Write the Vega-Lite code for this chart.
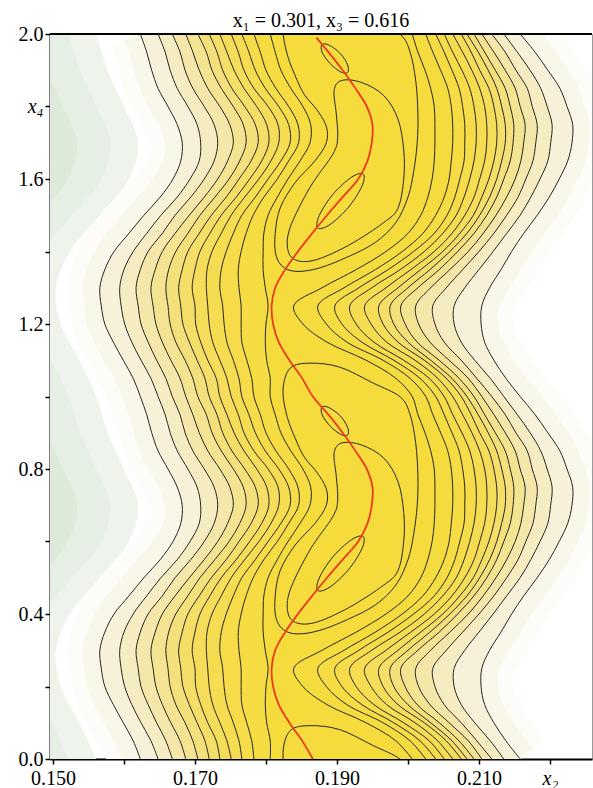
{
"$schema": "https://vega.github.io/schema/vega-lite/v6.json",
"width": 542, "height": 725,
"autosize": {"type": "none"},
"padding": {"left": 50, "top": 34, "right": 1, "bottom": 29},
"background": "white",
"title": {"text": "x₁ = 0.301, x₃ = 0.616", "font": "Liberation Serif", "fontSize": 20, "fontWeight": "normal", "color": "#000", "offset": -7, "anchor": "middle"},
"config": {
  "view": {"stroke": "#9a9a9a", "strokeWidth": 1},
  "axis": {"grid": false, "domainColor": "#000", "domainWidth": 2, "tickColor": "#000", "tickWidth": 1.5, "tickSize": 5, "labelFont": "Liberation Serif", "labelFontSize": 20, "labelColor": "#000", "labelPadding": 2}
},
"resolve": {"scale": {"color": "independent"}},
"datasets": {
"green": [
{"lvl":1,"y":0,"x":0.1561},{"lvl":1,"y":0.1,"x":0.1537},{"lvl":1,"y":0.2,"x":0.1511},{"lvl":1,"y":0.3,"x":0.1504},{"lvl":1,"y":0.4,"x":0.1524},{"lvl":1,"y":0.5,"x":0.1566},{"lvl":1,"y":0.6,"x":0.1607},{"lvl":1,"y":0.7,"x":0.1620},{"lvl":1,"y":0.8,"x":0.1600},{"lvl":1,"y":0.9,"x":0.1577},
{"lvl":1,"y":1,"x":0.1561},{"lvl":1,"y":1.1,"x":0.1537},{"lvl":1,"y":1.2,"x":0.1511},{"lvl":1,"y":1.3,"x":0.1504},{"lvl":1,"y":1.4,"x":0.1524},{"lvl":1,"y":1.5,"x":0.1566},{"lvl":1,"y":1.6,"x":0.1607},{"lvl":1,"y":1.7,"x":0.1620},{"lvl":1,"y":1.8,"x":0.1600},{"lvl":1,"y":1.9,"x":0.1577},{"lvl":1,"y":2,"x":0.1561},
{"lvl":2,"y":0,"x":0.1522},{"lvl":2,"y":0.1,"x":0.1498},{"lvl":2,"y":0.2,"x":0.1472},{"lvl":2,"y":0.3,"x":0.1465},{"lvl":2,"y":0.4,"x":0.1485},{"lvl":2,"y":0.5,"x":0.1527},{"lvl":2,"y":0.6,"x":0.1568},{"lvl":2,"y":0.7,"x":0.1581},{"lvl":2,"y":0.8,"x":0.1561},{"lvl":2,"y":0.9,"x":0.1538},
{"lvl":2,"y":1,"x":0.1522},{"lvl":2,"y":1.1,"x":0.1498},{"lvl":2,"y":1.2,"x":0.1472},{"lvl":2,"y":1.3,"x":0.1465},{"lvl":2,"y":1.4,"x":0.1485},{"lvl":2,"y":1.5,"x":0.1527},{"lvl":2,"y":1.6,"x":0.1568},{"lvl":2,"y":1.7,"x":0.1581},{"lvl":2,"y":1.8,"x":0.1561},{"lvl":2,"y":1.9,"x":0.1538},{"lvl":2,"y":2,"x":0.1522},
{"lvl":3,"y":0,"x":0.1475},{"lvl":3,"y":0.1,"x":0.1451},{"lvl":3,"y":0.2,"x":0.1425},{"lvl":3,"y":0.3,"x":0.1418},{"lvl":3,"y":0.4,"x":0.1438},{"lvl":3,"y":0.5,"x":0.1480},{"lvl":3,"y":0.6,"x":0.1521},{"lvl":3,"y":0.7,"x":0.1534},{"lvl":3,"y":0.8,"x":0.1514},{"lvl":3,"y":0.9,"x":0.1491},
{"lvl":3,"y":1,"x":0.1475},{"lvl":3,"y":1.1,"x":0.1451},{"lvl":3,"y":1.2,"x":0.1425},{"lvl":3,"y":1.3,"x":0.1418},{"lvl":3,"y":1.4,"x":0.1438},{"lvl":3,"y":1.5,"x":0.1480},{"lvl":3,"y":1.6,"x":0.1521},{"lvl":3,"y":1.7,"x":0.1534},{"lvl":3,"y":1.8,"x":0.1514},{"lvl":3,"y":1.9,"x":0.1491},{"lvl":3,"y":2,"x":0.1475}
],
"bands": [
{"k":1,"y":0,"l":0.1623,"r":0.2158},{"k":1,"y":0.05,"l":0.1613,"r":0.2138},{"k":1,"y":0.1,"l":0.1599,"r":0.2121},{"k":1,"y":0.15,"l":0.1585,"r":0.2108},{"k":1,"y":0.2,"l":0.1573,"r":0.2103},{"k":1,"y":0.25,"l":0.1568,"r":0.2104},{"k":1,"y":0.3,"l":0.1566,"r":0.2115},{"k":1,"y":0.35,"l":0.1573,"r":0.2131},{"k":1,"y":0.4,"l":0.1586,"r":0.2146},{"k":1,"y":0.45,"l":0.1607,"r":0.2163},{"k":1,"y":0.5,"l":0.1628,"r":0.2182},{"k":1,"y":0.55,"l":0.1651,"r":0.2199},{"k":1,"y":0.6,"l":0.1669,"r":0.2213},{"k":1,"y":0.65,"l":0.1680,"r":0.2225},{"k":1,"y":0.7,"l":0.1682,"r":0.2231},{"k":1,"y":0.75,"l":0.1675,"r":0.2232},{"k":1,"y":0.8,"l":0.1662,"r":0.2224},{"k":1,"y":0.85,"l":0.1648,"r":0.2214},{"k":1,"y":0.9,"l":0.1639,"r":0.2197},{"k":1,"y":0.95,"l":0.1632,"r":0.2179},
{"k":1,"y":1,"l":0.1623,"r":0.2158},{"k":1,"y":1.05,"l":0.1613,"r":0.2138},{"k":1,"y":1.1,"l":0.1599,"r":0.2121},{"k":1,"y":1.15,"l":0.1585,"r":0.2108},{"k":1,"y":1.2,"l":0.1573,"r":0.2103},{"k":1,"y":1.25,"l":0.1568,"r":0.2104},{"k":1,"y":1.3,"l":0.1566,"r":0.2115},{"k":1,"y":1.35,"l":0.1573,"r":0.2131},{"k":1,"y":1.4,"l":0.1586,"r":0.2146},{"k":1,"y":1.45,"l":0.1607,"r":0.2163},{"k":1,"y":1.5,"l":0.1628,"r":0.2182},{"k":1,"y":1.55,"l":0.1651,"r":0.2199},{"k":1,"y":1.6,"l":0.1669,"r":0.2213},{"k":1,"y":1.65,"l":0.1680,"r":0.2225},{"k":1,"y":1.7,"l":0.1682,"r":0.2231},{"k":1,"y":1.75,"l":0.1675,"r":0.2232},{"k":1,"y":1.8,"l":0.1662,"r":0.2224},{"k":1,"y":1.85,"l":0.1648,"r":0.2214},{"k":1,"y":1.9,"l":0.1639,"r":0.2197},{"k":1,"y":1.95,"l":0.1632,"r":0.2179},{"k":1,"y":2,"l":0.1623,"r":0.2158},
{"k":2,"y":0,"l":0.1648,"r":0.2135},{"k":2,"y":0.05,"l":0.1638,"r":0.2116},{"k":2,"y":0.1,"l":0.1624,"r":0.2094},{"k":2,"y":0.15,"l":0.1611,"r":0.2075},{"k":2,"y":0.2,"l":0.1601,"r":0.2065},{"k":2,"y":0.25,"l":0.1596,"r":0.2065},{"k":2,"y":0.3,"l":0.1594,"r":0.2080},{"k":2,"y":0.35,"l":0.1600,"r":0.2100},{"k":2,"y":0.4,"l":0.1613,"r":0.2120},{"k":2,"y":0.45,"l":0.1632,"r":0.2139},{"k":2,"y":0.5,"l":0.1652,"r":0.2158},{"k":2,"y":0.55,"l":0.1675,"r":0.2173},{"k":2,"y":0.6,"l":0.1693,"r":0.2186},{"k":2,"y":0.65,"l":0.1706,"r":0.2197},{"k":2,"y":0.7,"l":0.1708,"r":0.2201},{"k":2,"y":0.75,"l":0.1703,"r":0.2203},{"k":2,"y":0.8,"l":0.1690,"r":0.2196},{"k":2,"y":0.85,"l":0.1675,"r":0.2187},{"k":2,"y":0.9,"l":0.1665,"r":0.2172},{"k":2,"y":0.95,"l":0.1658,"r":0.2154},
{"k":2,"y":1,"l":0.1648,"r":0.2135},{"k":2,"y":1.05,"l":0.1638,"r":0.2116},{"k":2,"y":1.1,"l":0.1624,"r":0.2094},{"k":2,"y":1.15,"l":0.1611,"r":0.2075},{"k":2,"y":1.2,"l":0.1601,"r":0.2065},{"k":2,"y":1.25,"l":0.1596,"r":0.2065},{"k":2,"y":1.3,"l":0.1594,"r":0.2080},{"k":2,"y":1.35,"l":0.1600,"r":0.2100},{"k":2,"y":1.4,"l":0.1613,"r":0.2120},{"k":2,"y":1.45,"l":0.1632,"r":0.2139},{"k":2,"y":1.5,"l":0.1652,"r":0.2158},{"k":2,"y":1.55,"l":0.1675,"r":0.2173},{"k":2,"y":1.6,"l":0.1693,"r":0.2186},{"k":2,"y":1.65,"l":0.1706,"r":0.2197},{"k":2,"y":1.7,"l":0.1708,"r":0.2201},{"k":2,"y":1.75,"l":0.1703,"r":0.2203},{"k":2,"y":1.8,"l":0.1690,"r":0.2196},{"k":2,"y":1.85,"l":0.1675,"r":0.2187},{"k":2,"y":1.9,"l":0.1665,"r":0.2172},{"k":2,"y":1.95,"l":0.1658,"r":0.2154},{"k":2,"y":2,"l":0.1648,"r":0.2135},
{"k":3,"y":0,"l":0.1668,"r":0.2118},{"k":3,"y":0.05,"l":0.1659,"r":0.2097},{"k":3,"y":0.1,"l":0.1646,"r":0.2075},{"k":3,"y":0.15,"l":0.1634,"r":0.2051},{"k":3,"y":0.2,"l":0.1624,"r":0.2038},{"k":3,"y":0.25,"l":0.1620,"r":0.2035},{"k":3,"y":0.3,"l":0.1617,"r":0.2054},{"k":3,"y":0.35,"l":0.1623,"r":0.2077},{"k":3,"y":0.4,"l":0.1634,"r":0.2100},{"k":3,"y":0.45,"l":0.1654,"r":0.2121},{"k":3,"y":0.5,"l":0.1672,"r":0.2139},{"k":3,"y":0.55,"l":0.1694,"r":0.2155},{"k":3,"y":0.6,"l":0.1713,"r":0.2166},{"k":3,"y":0.65,"l":0.1727,"r":0.2176},{"k":3,"y":0.7,"l":0.1732,"r":0.2180},{"k":3,"y":0.75,"l":0.1727,"r":0.2182},{"k":3,"y":0.8,"l":0.1713,"r":0.2175},{"k":3,"y":0.85,"l":0.1697,"r":0.2168},{"k":3,"y":0.9,"l":0.1686,"r":0.2152},{"k":3,"y":0.95,"l":0.1679,"r":0.2137},
{"k":3,"y":1,"l":0.1668,"r":0.2118},{"k":3,"y":1.05,"l":0.1659,"r":0.2097},{"k":3,"y":1.1,"l":0.1646,"r":0.2075},{"k":3,"y":1.15,"l":0.1634,"r":0.2051},{"k":3,"y":1.2,"l":0.1624,"r":0.2038},{"k":3,"y":1.25,"l":0.1620,"r":0.2035},{"k":3,"y":1.3,"l":0.1617,"r":0.2054},{"k":3,"y":1.35,"l":0.1623,"r":0.2077},{"k":3,"y":1.4,"l":0.1634,"r":0.2100},{"k":3,"y":1.45,"l":0.1654,"r":0.2121},{"k":3,"y":1.5,"l":0.1672,"r":0.2139},{"k":3,"y":1.55,"l":0.1694,"r":0.2155},{"k":3,"y":1.6,"l":0.1713,"r":0.2166},{"k":3,"y":1.65,"l":0.1727,"r":0.2176},{"k":3,"y":1.7,"l":0.1732,"r":0.2180},{"k":3,"y":1.75,"l":0.1727,"r":0.2182},{"k":3,"y":1.8,"l":0.1713,"r":0.2175},{"k":3,"y":1.85,"l":0.1697,"r":0.2168},{"k":3,"y":1.9,"l":0.1686,"r":0.2152},{"k":3,"y":1.95,"l":0.1679,"r":0.2137},{"k":3,"y":2,"l":0.1668,"r":0.2118},
{"k":4,"y":0,"l":0.1687,"r":0.2104},{"k":4,"y":0.05,"l":0.1679,"r":0.2085},{"k":4,"y":0.1,"l":0.1666,"r":0.2058},{"k":4,"y":0.15,"l":0.1654,"r":0.2031},{"k":4,"y":0.2,"l":0.1645,"r":0.2015},{"k":4,"y":0.25,"l":0.1641,"r":0.2011},{"k":4,"y":0.3,"l":0.1638,"r":0.2032},{"k":4,"y":0.35,"l":0.1644,"r":0.2059},{"k":4,"y":0.4,"l":0.1654,"r":0.2085},{"k":4,"y":0.45,"l":0.1672,"r":0.2106},{"k":4,"y":0.5,"l":0.1692,"r":0.2124},{"k":4,"y":0.55,"l":0.1713,"r":0.2139},{"k":4,"y":0.6,"l":0.1732,"r":0.2151},{"k":4,"y":0.65,"l":0.1746,"r":0.2159},{"k":4,"y":0.7,"l":0.1754,"r":0.2163},{"k":4,"y":0.75,"l":0.1749,"r":0.2165},{"k":4,"y":0.8,"l":0.1735,"r":0.2158},{"k":4,"y":0.85,"l":0.1718,"r":0.2151},{"k":4,"y":0.9,"l":0.1706,"r":0.2137},{"k":4,"y":0.95,"l":0.1697,"r":0.2121},
{"k":4,"y":1,"l":0.1687,"r":0.2104},{"k":4,"y":1.05,"l":0.1679,"r":0.2085},{"k":4,"y":1.1,"l":0.1666,"r":0.2058},{"k":4,"y":1.15,"l":0.1654,"r":0.2031},{"k":4,"y":1.2,"l":0.1645,"r":0.2015},{"k":4,"y":1.25,"l":0.1641,"r":0.2011},{"k":4,"y":1.3,"l":0.1638,"r":0.2032},{"k":4,"y":1.35,"l":0.1644,"r":0.2059},{"k":4,"y":1.4,"l":0.1654,"r":0.2085},{"k":4,"y":1.45,"l":0.1672,"r":0.2106},{"k":4,"y":1.5,"l":0.1692,"r":0.2124},{"k":4,"y":1.55,"l":0.1713,"r":0.2139},{"k":4,"y":1.6,"l":0.1732,"r":0.2151},{"k":4,"y":1.65,"l":0.1746,"r":0.2159},{"k":4,"y":1.7,"l":0.1754,"r":0.2163},{"k":4,"y":1.75,"l":0.1749,"r":0.2165},{"k":4,"y":1.8,"l":0.1735,"r":0.2158},{"k":4,"y":1.85,"l":0.1718,"r":0.2151},{"k":4,"y":1.9,"l":0.1706,"r":0.2137},{"k":4,"y":1.95,"l":0.1697,"r":0.2121},{"k":4,"y":2,"l":0.1687,"r":0.2104},
{"k":5,"y":0,"l":0.1704,"r":0.2093},{"k":5,"y":0.05,"l":0.1697,"r":0.2072},{"k":5,"y":0.1,"l":0.1686,"r":0.2044},{"k":5,"y":0.15,"l":0.1673,"r":0.2013},{"k":5,"y":0.2,"l":0.1665,"r":0.1996},{"k":5,"y":0.25,"l":0.1662,"r":0.1990},{"k":5,"y":0.3,"l":0.1659,"r":0.2014},{"k":5,"y":0.35,"l":0.1663,"r":0.2044},{"k":5,"y":0.4,"l":0.1673,"r":0.2070},{"k":5,"y":0.45,"l":0.1690,"r":0.2093},{"k":5,"y":0.5,"l":0.1707,"r":0.2111},{"k":5,"y":0.55,"l":0.1728,"r":0.2125},{"k":5,"y":0.6,"l":0.1748,"r":0.2135},{"k":5,"y":0.65,"l":0.1763,"r":0.2144},{"k":5,"y":0.7,"l":0.1772,"r":0.2148},{"k":5,"y":0.75,"l":0.1768,"r":0.2149},{"k":5,"y":0.8,"l":0.1754,"r":0.2144},{"k":5,"y":0.85,"l":0.1737,"r":0.2137},{"k":5,"y":0.9,"l":0.1724,"r":0.2123},{"k":5,"y":0.95,"l":0.1716,"r":0.2108},
{"k":5,"y":1,"l":0.1704,"r":0.2093},{"k":5,"y":1.05,"l":0.1697,"r":0.2072},{"k":5,"y":1.1,"l":0.1686,"r":0.2044},{"k":5,"y":1.15,"l":0.1673,"r":0.2013},{"k":5,"y":1.2,"l":0.1665,"r":0.1996},{"k":5,"y":1.25,"l":0.1662,"r":0.1990},{"k":5,"y":1.3,"l":0.1659,"r":0.2014},{"k":5,"y":1.35,"l":0.1663,"r":0.2044},{"k":5,"y":1.4,"l":0.1673,"r":0.2070},{"k":5,"y":1.45,"l":0.1690,"r":0.2093},{"k":5,"y":1.5,"l":0.1707,"r":0.2111},{"k":5,"y":1.55,"l":0.1728,"r":0.2125},{"k":5,"y":1.6,"l":0.1748,"r":0.2135},{"k":5,"y":1.65,"l":0.1763,"r":0.2144},{"k":5,"y":1.7,"l":0.1772,"r":0.2148},{"k":5,"y":1.75,"l":0.1768,"r":0.2149},{"k":5,"y":1.8,"l":0.1754,"r":0.2144},{"k":5,"y":1.85,"l":0.1737,"r":0.2137},{"k":5,"y":1.9,"l":0.1724,"r":0.2123},{"k":5,"y":1.95,"l":0.1716,"r":0.2108},{"k":5,"y":2,"l":0.1704,"r":0.2093},
{"k":6,"y":0,"l":0.1720,"r":0.2083},{"k":6,"y":0.05,"l":0.1714,"r":0.2062},{"k":6,"y":0.1,"l":0.1703,"r":0.2032},{"k":6,"y":0.15,"l":0.1692,"r":0.2000},{"k":6,"y":0.2,"l":0.1683,"r":0.1980},{"k":6,"y":0.25,"l":0.1680,"r":0.1975},{"k":6,"y":0.3,"l":0.1677,"r":0.2000},{"k":6,"y":0.35,"l":0.1682,"r":0.2031},{"k":6,"y":0.4,"l":0.1690,"r":0.2059},{"k":6,"y":0.45,"l":0.1706,"r":0.2083},{"k":6,"y":0.5,"l":0.1723,"r":0.2101},{"k":6,"y":0.55,"l":0.1744,"r":0.2115},{"k":6,"y":0.6,"l":0.1762,"r":0.2125},{"k":6,"y":0.65,"l":0.1779,"r":0.2132},{"k":6,"y":0.7,"l":0.1789,"r":0.2137},{"k":6,"y":0.75,"l":0.1785,"r":0.2137},{"k":6,"y":0.8,"l":0.1770,"r":0.2132},{"k":6,"y":0.85,"l":0.1752,"r":0.2125},{"k":6,"y":0.9,"l":0.1739,"r":0.2113},{"k":6,"y":0.95,"l":0.1731,"r":0.2099},
{"k":6,"y":1,"l":0.1720,"r":0.2083},{"k":6,"y":1.05,"l":0.1714,"r":0.2062},{"k":6,"y":1.1,"l":0.1703,"r":0.2032},{"k":6,"y":1.15,"l":0.1692,"r":0.2000},{"k":6,"y":1.2,"l":0.1683,"r":0.1980},{"k":6,"y":1.25,"l":0.1680,"r":0.1975},{"k":6,"y":1.3,"l":0.1677,"r":0.2000},{"k":6,"y":1.35,"l":0.1682,"r":0.2031},{"k":6,"y":1.4,"l":0.1690,"r":0.2059},{"k":6,"y":1.45,"l":0.1706,"r":0.2083},{"k":6,"y":1.5,"l":0.1723,"r":0.2101},{"k":6,"y":1.55,"l":0.1744,"r":0.2115},{"k":6,"y":1.6,"l":0.1762,"r":0.2125},{"k":6,"y":1.65,"l":0.1779,"r":0.2132},{"k":6,"y":1.7,"l":0.1789,"r":0.2137},{"k":6,"y":1.75,"l":0.1785,"r":0.2137},{"k":6,"y":1.8,"l":0.1770,"r":0.2132},{"k":6,"y":1.85,"l":0.1752,"r":0.2125},{"k":6,"y":1.9,"l":0.1739,"r":0.2113},{"k":6,"y":1.95,"l":0.1731,"r":0.2099},{"k":6,"y":2,"l":0.1720,"r":0.2083},
{"k":7,"y":0,"l":0.1735,"r":0.2075},{"k":7,"y":0.05,"l":0.1730,"r":0.2054},{"k":7,"y":0.1,"l":0.1718,"r":0.2023},{"k":7,"y":0.15,"l":0.1708,"r":0.1986},{"k":7,"y":0.2,"l":0.1701,"r":0.1965},{"k":7,"y":0.25,"l":0.1700,"r":0.1959},{"k":7,"y":0.3,"l":0.1696,"r":0.1986},{"k":7,"y":0.35,"l":0.1700,"r":0.2018},{"k":7,"y":0.4,"l":0.1707,"r":0.2049},{"k":7,"y":0.45,"l":0.1721,"r":0.2073},{"k":7,"y":0.5,"l":0.1737,"r":0.2092},{"k":7,"y":0.55,"l":0.1758,"r":0.2104},{"k":7,"y":0.6,"l":0.1777,"r":0.2114},{"k":7,"y":0.65,"l":0.1794,"r":0.2121},{"k":7,"y":0.7,"l":0.1804,"r":0.2125},{"k":7,"y":0.75,"l":0.1801,"r":0.2125},{"k":7,"y":0.8,"l":0.1787,"r":0.2121},{"k":7,"y":0.85,"l":0.1769,"r":0.2114},{"k":7,"y":0.9,"l":0.1755,"r":0.2101},{"k":7,"y":0.95,"l":0.1745,"r":0.2089},
{"k":7,"y":1,"l":0.1735,"r":0.2075},{"k":7,"y":1.05,"l":0.1730,"r":0.2054},{"k":7,"y":1.1,"l":0.1718,"r":0.2023},{"k":7,"y":1.15,"l":0.1708,"r":0.1986},{"k":7,"y":1.2,"l":0.1701,"r":0.1965},{"k":7,"y":1.25,"l":0.1700,"r":0.1959},{"k":7,"y":1.3,"l":0.1696,"r":0.1986},{"k":7,"y":1.35,"l":0.1700,"r":0.2018},{"k":7,"y":1.4,"l":0.1707,"r":0.2049},{"k":7,"y":1.45,"l":0.1721,"r":0.2073},{"k":7,"y":1.5,"l":0.1737,"r":0.2092},{"k":7,"y":1.55,"l":0.1758,"r":0.2104},{"k":7,"y":1.6,"l":0.1777,"r":0.2114},{"k":7,"y":1.65,"l":0.1794,"r":0.2121},{"k":7,"y":1.7,"l":0.1804,"r":0.2125},{"k":7,"y":1.75,"l":0.1801,"r":0.2125},{"k":7,"y":1.8,"l":0.1787,"r":0.2121},{"k":7,"y":1.85,"l":0.1769,"r":0.2114},{"k":7,"y":1.9,"l":0.1755,"r":0.2101},{"k":7,"y":1.95,"l":0.1745,"r":0.2089},{"k":7,"y":2,"l":0.1735,"r":0.2075},
{"k":8,"y":0,"l":0.1751,"r":0.2063},{"k":8,"y":0.05,"l":0.1745,"r":0.2042},{"k":8,"y":0.1,"l":0.1735,"r":0.2010},{"k":8,"y":0.15,"l":0.1725,"r":0.1970},{"k":8,"y":0.2,"l":0.1720,"r":0.1948},{"k":8,"y":0.25,"l":0.1718,"r":0.1939},{"k":8,"y":0.3,"l":0.1716,"r":0.1969},{"k":8,"y":0.35,"l":0.1717,"r":0.2004},{"k":8,"y":0.4,"l":0.1724,"r":0.2037},{"k":8,"y":0.45,"l":0.1737,"r":0.2062},{"k":8,"y":0.5,"l":0.1751,"r":0.2080},{"k":8,"y":0.55,"l":0.1770,"r":0.2093},{"k":8,"y":0.6,"l":0.1790,"r":0.2101},{"k":8,"y":0.65,"l":0.1807,"r":0.2108},{"k":8,"y":0.7,"l":0.1818,"r":0.2111},{"k":8,"y":0.75,"l":0.1817,"r":0.2111},{"k":8,"y":0.8,"l":0.1803,"r":0.2108},{"k":8,"y":0.85,"l":0.1783,"r":0.2101},{"k":8,"y":0.9,"l":0.1769,"r":0.2090},{"k":8,"y":0.95,"l":0.1761,"r":0.2077},
{"k":8,"y":1,"l":0.1751,"r":0.2063},{"k":8,"y":1.05,"l":0.1745,"r":0.2042},{"k":8,"y":1.1,"l":0.1735,"r":0.2010},{"k":8,"y":1.15,"l":0.1725,"r":0.1970},{"k":8,"y":1.2,"l":0.1720,"r":0.1948},{"k":8,"y":1.25,"l":0.1718,"r":0.1939},{"k":8,"y":1.3,"l":0.1716,"r":0.1969},{"k":8,"y":1.35,"l":0.1717,"r":0.2004},{"k":8,"y":1.4,"l":0.1724,"r":0.2037},{"k":8,"y":1.45,"l":0.1737,"r":0.2062},{"k":8,"y":1.5,"l":0.1751,"r":0.2080},{"k":8,"y":1.55,"l":0.1770,"r":0.2093},{"k":8,"y":1.6,"l":0.1790,"r":0.2101},{"k":8,"y":1.65,"l":0.1807,"r":0.2108},{"k":8,"y":1.7,"l":0.1818,"r":0.2111},{"k":8,"y":1.75,"l":0.1817,"r":0.2111},{"k":8,"y":1.8,"l":0.1803,"r":0.2108},{"k":8,"y":1.85,"l":0.1783,"r":0.2101},{"k":8,"y":1.9,"l":0.1769,"r":0.2090},{"k":8,"y":1.95,"l":0.1761,"r":0.2077},{"k":8,"y":2,"l":0.1751,"r":0.2063},
{"k":9,"y":0,"l":0.1766,"r":0.2051},{"k":9,"y":0.05,"l":0.1762,"r":0.2030},{"k":9,"y":0.1,"l":0.1754,"r":0.1994},{"k":9,"y":0.15,"l":0.1745,"r":0.1952},{"k":9,"y":0.2,"l":0.1741,"r":0.1927},{"k":9,"y":0.25,"l":0.1739,"r":0.1918},{"k":9,"y":0.3,"l":0.1735,"r":0.1949},{"k":9,"y":0.35,"l":0.1737,"r":0.1989},{"k":9,"y":0.4,"l":0.1744,"r":0.2023},{"k":9,"y":0.45,"l":0.1754,"r":0.2049},{"k":9,"y":0.5,"l":0.1766,"r":0.2068},{"k":9,"y":0.55,"l":0.1785,"r":0.2079},{"k":9,"y":0.6,"l":0.1803,"r":0.2087},{"k":9,"y":0.65,"l":0.1821,"r":0.2093},{"k":9,"y":0.7,"l":0.1834,"r":0.2096},{"k":9,"y":0.75,"l":0.1832,"r":0.2096},{"k":9,"y":0.8,"l":0.1818,"r":0.2093},{"k":9,"y":0.85,"l":0.1799,"r":0.2087},{"k":9,"y":0.9,"l":0.1785,"r":0.2076},{"k":9,"y":0.95,"l":0.1776,"r":0.2063},
{"k":9,"y":1,"l":0.1766,"r":0.2051},{"k":9,"y":1.05,"l":0.1762,"r":0.2030},{"k":9,"y":1.1,"l":0.1754,"r":0.1994},{"k":9,"y":1.15,"l":0.1745,"r":0.1952},{"k":9,"y":1.2,"l":0.1741,"r":0.1927},{"k":9,"y":1.25,"l":0.1739,"r":0.1918},{"k":9,"y":1.3,"l":0.1735,"r":0.1949},{"k":9,"y":1.35,"l":0.1737,"r":0.1989},{"k":9,"y":1.4,"l":0.1744,"r":0.2023},{"k":9,"y":1.45,"l":0.1754,"r":0.2049},{"k":9,"y":1.5,"l":0.1766,"r":0.2068},{"k":9,"y":1.55,"l":0.1785,"r":0.2079},{"k":9,"y":1.6,"l":0.1803,"r":0.2087},{"k":9,"y":1.65,"l":0.1821,"r":0.2093},{"k":9,"y":1.7,"l":0.1834,"r":0.2096},{"k":9,"y":1.75,"l":0.1832,"r":0.2096},{"k":9,"y":1.8,"l":0.1818,"r":0.2093},{"k":9,"y":1.85,"l":0.1799,"r":0.2087},{"k":9,"y":1.9,"l":0.1785,"r":0.2076},{"k":9,"y":1.95,"l":0.1776,"r":0.2063},{"k":9,"y":2,"l":0.1766,"r":0.2051},
{"k":10,"y":0,"l":0.1783,"r":0.2039},{"k":10,"y":0.05,"l":0.1780,"r":0.2017},{"k":10,"y":0.1,"l":0.1773,"r":0.1980},{"k":10,"y":0.15,"l":0.1766,"r":0.1935},{"k":10,"y":0.2,"l":0.1765,"r":0.1907},{"k":10,"y":0.25,"l":0.1765,"r":0.1897},{"k":10,"y":0.3,"l":0.1762,"r":0.1931},{"k":10,"y":0.35,"l":0.1761,"r":0.1972},{"k":10,"y":0.4,"l":0.1765,"r":0.2008},{"k":10,"y":0.45,"l":0.1772,"r":0.2037},{"k":10,"y":0.5,"l":0.1782,"r":0.2055},{"k":10,"y":0.55,"l":0.1797,"r":0.2066},{"k":10,"y":0.6,"l":0.1816,"r":0.2073},{"k":10,"y":0.65,"l":0.1832,"r":0.2079},{"k":10,"y":0.7,"l":0.1846,"r":0.2080},{"k":10,"y":0.75,"l":0.1845,"r":0.2080},{"k":10,"y":0.8,"l":0.1832,"r":0.2077},{"k":10,"y":0.85,"l":0.1814,"r":0.2072},{"k":10,"y":0.9,"l":0.1800,"r":0.2062},{"k":10,"y":0.95,"l":0.1792,"r":0.2051},
{"k":10,"y":1,"l":0.1783,"r":0.2039},{"k":10,"y":1.05,"l":0.1780,"r":0.2017},{"k":10,"y":1.1,"l":0.1773,"r":0.1980},{"k":10,"y":1.15,"l":0.1766,"r":0.1935},{"k":10,"y":1.2,"l":0.1765,"r":0.1907},{"k":10,"y":1.25,"l":0.1765,"r":0.1897},{"k":10,"y":1.3,"l":0.1762,"r":0.1931},{"k":10,"y":1.35,"l":0.1761,"r":0.1972},{"k":10,"y":1.4,"l":0.1765,"r":0.2008},{"k":10,"y":1.45,"l":0.1772,"r":0.2037},{"k":10,"y":1.5,"l":0.1782,"r":0.2055},{"k":10,"y":1.55,"l":0.1797,"r":0.2066},{"k":10,"y":1.6,"l":0.1816,"r":0.2073},{"k":10,"y":1.65,"l":0.1832,"r":0.2079},{"k":10,"y":1.7,"l":0.1846,"r":0.2080},{"k":10,"y":1.75,"l":0.1845,"r":0.2080},{"k":10,"y":1.8,"l":0.1832,"r":0.2077},{"k":10,"y":1.85,"l":0.1814,"r":0.2072},{"k":10,"y":1.9,"l":0.1800,"r":0.2062},{"k":10,"y":1.95,"l":0.1792,"r":0.2051},{"k":10,"y":2,"l":0.1783,"r":0.2039},
{"k":11,"y":0,"l":0.1806,"r":0.2025},{"k":11,"y":0.05,"l":0.1806,"r":0.2003},{"k":11,"y":0.1,"l":0.1801,"r":0.1965},{"k":11,"y":0.15,"l":0.1799,"r":0.1914},{"k":11,"y":0.2,"l":0.1800,"r":0.1885},{"k":11,"y":0.25,"l":0.1803,"r":0.1873},{"k":11,"y":0.3,"l":0.1799,"r":0.1910},{"k":11,"y":0.35,"l":0.1796,"r":0.1954},{"k":11,"y":0.4,"l":0.1796,"r":0.1992},{"k":11,"y":0.45,"l":0.1797,"r":0.2021},{"k":11,"y":0.5,"l":0.1803,"r":0.2039},{"k":11,"y":0.55,"l":0.1816,"r":0.2051},{"k":11,"y":0.6,"l":0.1831,"r":0.2058},{"k":11,"y":0.65,"l":0.1848,"r":0.2061},{"k":11,"y":0.7,"l":0.1862,"r":0.2063},{"k":11,"y":0.75,"l":0.1863,"r":0.2063},{"k":11,"y":0.8,"l":0.1852,"r":0.2061},{"k":11,"y":0.85,"l":0.1835,"r":0.2056},{"k":11,"y":0.9,"l":0.1821,"r":0.2046},{"k":11,"y":0.95,"l":0.1813,"r":0.2035},
{"k":11,"y":1,"l":0.1806,"r":0.2025},{"k":11,"y":1.05,"l":0.1806,"r":0.2003},{"k":11,"y":1.1,"l":0.1801,"r":0.1965},{"k":11,"y":1.15,"l":0.1799,"r":0.1914},{"k":11,"y":1.2,"l":0.1800,"r":0.1885},{"k":11,"y":1.25,"l":0.1803,"r":0.1873},{"k":11,"y":1.3,"l":0.1799,"r":0.1910},{"k":11,"y":1.35,"l":0.1796,"r":0.1954},{"k":11,"y":1.4,"l":0.1796,"r":0.1992},{"k":11,"y":1.45,"l":0.1797,"r":0.2021},{"k":11,"y":1.5,"l":0.1803,"r":0.2039},{"k":11,"y":1.55,"l":0.1816,"r":0.2051},{"k":11,"y":1.6,"l":0.1831,"r":0.2058},{"k":11,"y":1.65,"l":0.1848,"r":0.2061},{"k":11,"y":1.7,"l":0.1862,"r":0.2063},{"k":11,"y":1.75,"l":0.1863,"r":0.2063},{"k":11,"y":1.8,"l":0.1852,"r":0.2061},{"k":11,"y":1.85,"l":0.1835,"r":0.2056},{"k":11,"y":1.9,"l":0.1821,"r":0.2046},{"k":11,"y":1.95,"l":0.1813,"r":0.2035},{"k":11,"y":2,"l":0.1806,"r":0.2025},
{"k":12,"y":0,"l":0.1806,"r":0.2006},{"k":12,"y":0.05,"l":0.1806,"r":0.1983},{"k":12,"y":0.1,"l":0.1801,"r":0.1941},{"k":12,"y":0.15,"l":0.1799,"r":0.1886},{"k":12,"y":0.2,"l":0.1800,"r":0.1852},{"k":12,"y":0.25,"l":0.1803,"r":0.1839},{"k":12,"y":0.3,"l":0.1799,"r":0.1879},{"k":12,"y":0.35,"l":0.1796,"r":0.1927},{"k":12,"y":0.4,"l":0.1796,"r":0.1969},{"k":12,"y":0.45,"l":0.1797,"r":0.2000},{"k":12,"y":0.5,"l":0.1803,"r":0.2018},{"k":12,"y":0.55,"l":0.1816,"r":0.2028},{"k":12,"y":0.6,"l":0.1831,"r":0.2034},{"k":12,"y":0.65,"l":0.1848,"r":0.2037},{"k":12,"y":0.7,"l":0.1862,"r":0.2038},{"k":12,"y":0.75,"l":0.1863,"r":0.2038},{"k":12,"y":0.8,"l":0.1852,"r":0.2037},{"k":12,"y":0.85,"l":0.1835,"r":0.2032},{"k":12,"y":0.9,"l":0.1821,"r":0.2024},{"k":12,"y":0.95,"l":0.1813,"r":0.2014},
{"k":12,"y":1,"l":0.1806,"r":0.2006},{"k":12,"y":1.05,"l":0.1806,"r":0.1983},{"k":12,"y":1.1,"l":0.1801,"r":0.1941},{"k":12,"y":1.15,"l":0.1799,"r":0.1886},{"k":12,"y":1.2,"l":0.1800,"r":0.1852},{"k":12,"y":1.25,"l":0.1803,"r":0.1839},{"k":12,"y":1.3,"l":0.1799,"r":0.1879},{"k":12,"y":1.35,"l":0.1796,"r":0.1927},{"k":12,"y":1.4,"l":0.1796,"r":0.1969},{"k":12,"y":1.45,"l":0.1797,"r":0.2000},{"k":12,"y":1.5,"l":0.1803,"r":0.2018},{"k":12,"y":1.55,"l":0.1816,"r":0.2028},{"k":12,"y":1.6,"l":0.1831,"r":0.2034},{"k":12,"y":1.65,"l":0.1848,"r":0.2037},{"k":12,"y":1.7,"l":0.1862,"r":0.2038},{"k":12,"y":1.75,"l":0.1863,"r":0.2038},{"k":12,"y":1.8,"l":0.1852,"r":0.2037},{"k":12,"y":1.85,"l":0.1835,"r":0.2032},{"k":12,"y":1.9,"l":0.1821,"r":0.2024},{"k":12,"y":1.95,"l":0.1813,"r":0.2014},{"k":12,"y":2,"l":0.1806,"r":0.2006}
],
"loops": [
{"id":"A1","s":0,"x":0.1937,"y":0.6138},{"id":"A1","s":1,"x":0.1935,"y":0.5796},{"id":"A1","s":2,"x":0.1916,"y":0.5217},{"id":"A1","s":3,"x":0.1890,"y":0.4742},{"id":"A1","s":4,"x":0.1873,"y":0.4648},{"id":"A1","s":5,"x":0.1875,"y":0.4990},{"id":"A1","s":6,"x":0.1894,"y":0.5570},{"id":"A1","s":7,"x":0.1920,"y":0.6044},
{"id":"A2","s":0,"x":0.1937,"y":1.6138},{"id":"A2","s":1,"x":0.1935,"y":1.5796},{"id":"A2","s":2,"x":0.1916,"y":1.5217},{"id":"A2","s":3,"x":0.1890,"y":1.4742},{"id":"A2","s":4,"x":0.1873,"y":1.4648},{"id":"A2","s":5,"x":0.1875,"y":1.4990},{"id":"A2","s":6,"x":0.1894,"y":1.5570},{"id":"A2","s":7,"x":0.1920,"y":1.6044},
{"id":"B1","s":0,"x":0.1915,"y":0.8938},{"id":"B1","s":1,"x":0.1905,"y":0.8957},{"id":"B1","s":2,"x":0.1890,"y":0.9192},{"id":"B1","s":3,"x":0.1879,"y":0.9503},{"id":"B1","s":4,"x":0.1879,"y":0.9710},{"id":"B1","s":5,"x":0.1889,"y":0.9691},{"id":"B1","s":6,"x":0.1905,"y":0.9457},{"id":"B1","s":7,"x":0.1915,"y":0.9145},
{"id":"B2","s":0,"x":0.1915,"y":1.8938},{"id":"B2","s":1,"x":0.1905,"y":1.8957},{"id":"B2","s":2,"x":0.1890,"y":1.9192},{"id":"B2","s":3,"x":0.1879,"y":1.9503},{"id":"B2","s":4,"x":0.1879,"y":1.9710},{"id":"B2","s":5,"x":0.1889,"y":1.9691},{"id":"B2","s":6,"x":0.1905,"y":1.9457},{"id":"B2","s":7,"x":0.1915,"y":1.9145},
{"id":"C1","s":0,"x":0.1844,"y":0.375},{"id":"C1","s":1,"x":0.1831,"y":0.403},{"id":"C1","s":2,"x":0.1834,"y":0.466},{"id":"C1","s":3,"x":0.1862,"y":0.577},{"id":"C1","s":4,"x":0.1894,"y":0.668},{"id":"C1","s":5,"x":0.1901,"y":0.714},{"id":"C1","s":6,"x":0.1899,"y":0.78},{"id":"C1","s":7,"x":0.1896,"y":0.845},{"id":"C1","s":8,"x":0.1907,"y":0.872},{"id":"C1","s":9,"x":0.1935,"y":0.866},{"id":"C1","s":10,"x":0.1966,"y":0.83},{"id":"C1","s":11,"x":0.1986,"y":0.765},{"id":"C1","s":12,"x":0.1994,"y":0.68},{"id":"C1","s":13,"x":0.1994,"y":0.60},{"id":"C1","s":14,"x":0.1986,"y":0.52},{"id":"C1","s":15,"x":0.1966,"y":0.48},{"id":"C1","s":16,"x":0.1918,"y":0.419},{"id":"C1","s":17,"x":0.1872,"y":0.378},
{"id":"C2","s":0,"x":0.1844,"y":1.375},{"id":"C2","s":1,"x":0.1831,"y":1.403},{"id":"C2","s":2,"x":0.1834,"y":1.466},{"id":"C2","s":3,"x":0.1862,"y":1.577},{"id":"C2","s":4,"x":0.1894,"y":1.668},{"id":"C2","s":5,"x":0.1901,"y":1.714},{"id":"C2","s":6,"x":0.1899,"y":1.78},{"id":"C2","s":7,"x":0.1896,"y":1.845},{"id":"C2","s":8,"x":0.1907,"y":1.872},{"id":"C2","s":9,"x":0.1935,"y":1.866},{"id":"C2","s":10,"x":0.1966,"y":1.83},{"id":"C2","s":11,"x":0.1986,"y":1.765},{"id":"C2","s":12,"x":0.1994,"y":1.68},{"id":"C2","s":13,"x":0.1994,"y":1.60},{"id":"C2","s":14,"x":0.1986,"y":1.52},{"id":"C2","s":15,"x":0.1966,"y":1.48},{"id":"C2","s":16,"x":0.1918,"y":1.419},{"id":"C2","s":17,"x":0.1872,"y":1.378},
{"id":"P0","s":0,"x":0.1862,"y":0.092},{"id":"P0","s":1,"x":0.1904,"y":0.081},{"id":"P0","s":2,"x":0.1951,"y":0.037},{"id":"P0","s":3,"x":0.1989,"y":-0.001},{"id":"P0","s":4,"x":0.2003,"y":-0.05},{"id":"P0","s":5,"x":0.2011,"y":-0.13},{"id":"P0","s":6,"x":0.2014,"y":-0.22},{"id":"P0","s":7,"x":0.2013,"y":-0.30},{"id":"P0","s":8,"x":0.2008,"y":-0.38},{"id":"P0","s":9,"x":0.2000,"y":-0.45},{"id":"P0","s":10,"x":0.1983,"y":-0.52},{"id":"P0","s":11,"x":0.1954,"y":-0.575},{"id":"P0","s":12,"x":0.1915,"y":-0.615},{"id":"P0","s":13,"x":0.1876,"y":-0.645},{"id":"P0","s":14,"x":0.1845,"y":-0.655},{"id":"P0","s":15,"x":0.1825,"y":-0.644},{"id":"P0","s":16,"x":0.1814,"y":-0.61},{"id":"P0","s":17,"x":0.1813,"y":-0.55},{"id":"P0","s":18,"x":0.1820,"y":-0.48},{"id":"P0","s":19,"x":0.1841,"y":-0.41},{"id":"P0","s":20,"x":0.1869,"y":-0.35},{"id":"P0","s":21,"x":0.1885,"y":-0.30},{"id":"P0","s":22,"x":0.1885,"y":-0.255},{"id":"P0","s":23,"x":0.1872,"y":-0.21},{"id":"P0","s":24,"x":0.1855,"y":-0.17},{"id":"P0","s":25,"x":0.1844,"y":-0.128},{"id":"P0","s":26,"x":0.1830,"y":-0.057},{"id":"P0","s":27,"x":0.1824,"y":0.018},{"id":"P0","s":28,"x":0.1834,"y":0.078},
{"id":"P1","s":0,"x":0.1862,"y":1.092},{"id":"P1","s":1,"x":0.1904,"y":1.081},{"id":"P1","s":2,"x":0.1951,"y":1.037},{"id":"P1","s":3,"x":0.1989,"y":0.999},{"id":"P1","s":4,"x":0.2003,"y":0.95},{"id":"P1","s":5,"x":0.2011,"y":0.87},{"id":"P1","s":6,"x":0.2014,"y":0.78},{"id":"P1","s":7,"x":0.2013,"y":0.70},{"id":"P1","s":8,"x":0.2008,"y":0.62},{"id":"P1","s":9,"x":0.2000,"y":0.55},{"id":"P1","s":10,"x":0.1983,"y":0.48},{"id":"P1","s":11,"x":0.1954,"y":0.425},{"id":"P1","s":12,"x":0.1915,"y":0.385},{"id":"P1","s":13,"x":0.1876,"y":0.355},{"id":"P1","s":14,"x":0.1845,"y":0.345},{"id":"P1","s":15,"x":0.1825,"y":0.356},{"id":"P1","s":16,"x":0.1814,"y":0.39},{"id":"P1","s":17,"x":0.1813,"y":0.45},{"id":"P1","s":18,"x":0.1820,"y":0.52},{"id":"P1","s":19,"x":0.1841,"y":0.59},{"id":"P1","s":20,"x":0.1869,"y":0.65},{"id":"P1","s":21,"x":0.1885,"y":0.70},{"id":"P1","s":22,"x":0.1885,"y":0.745},{"id":"P1","s":23,"x":0.1872,"y":0.79},{"id":"P1","s":24,"x":0.1855,"y":0.83},{"id":"P1","s":25,"x":0.1844,"y":0.872},{"id":"P1","s":26,"x":0.1830,"y":0.943},{"id":"P1","s":27,"x":0.1824,"y":1.018},{"id":"P1","s":28,"x":0.1834,"y":1.078},
{"id":"P2","s":0,"x":0.1862,"y":2.092},{"id":"P2","s":1,"x":0.1904,"y":2.081},{"id":"P2","s":2,"x":0.1951,"y":2.037},{"id":"P2","s":3,"x":0.1989,"y":1.999},{"id":"P2","s":4,"x":0.2003,"y":1.95},{"id":"P2","s":5,"x":0.2011,"y":1.87},{"id":"P2","s":6,"x":0.2014,"y":1.78},{"id":"P2","s":7,"x":0.2013,"y":1.70},{"id":"P2","s":8,"x":0.2008,"y":1.62},{"id":"P2","s":9,"x":0.2000,"y":1.55},{"id":"P2","s":10,"x":0.1983,"y":1.48},{"id":"P2","s":11,"x":0.1954,"y":1.425},{"id":"P2","s":12,"x":0.1915,"y":1.385},{"id":"P2","s":13,"x":0.1876,"y":1.355},{"id":"P2","s":14,"x":0.1845,"y":1.345},{"id":"P2","s":15,"x":0.1825,"y":1.356},{"id":"P2","s":16,"x":0.1814,"y":1.39},{"id":"P2","s":17,"x":0.1813,"y":1.45},{"id":"P2","s":18,"x":0.1820,"y":1.52},{"id":"P2","s":19,"x":0.1841,"y":1.59},{"id":"P2","s":20,"x":0.1869,"y":1.65},{"id":"P2","s":21,"x":0.1885,"y":1.70},{"id":"P2","s":22,"x":0.1885,"y":1.745},{"id":"P2","s":23,"x":0.1872,"y":1.79},{"id":"P2","s":24,"x":0.1855,"y":1.83},{"id":"P2","s":25,"x":0.1844,"y":1.872},{"id":"P2","s":26,"x":0.1830,"y":1.943},{"id":"P2","s":27,"x":0.1824,"y":2.018},{"id":"P2","s":28,"x":0.1834,"y":2.078}
],
"red": [
{"y":0,"x":0.1866},{"y":0.05,"x":0.1851},{"y":0.1,"x":0.1833},{"y":0.15,"x":0.1818},{"y":0.2,"x":0.1810},{"y":0.25,"x":0.1808},{"y":0.3,"x":0.1813},{"y":0.35,"x":0.1827},{"y":0.4,"x":0.1845},{"y":0.45,"x":0.1865},{"y":0.5,"x":0.1886},{"y":0.55,"x":0.1908},{"y":0.6,"x":0.1930},{"y":0.65,"x":0.1943},{"y":0.7,"x":0.1949},{"y":0.75,"x":0.1950},{"y":0.8,"x":0.1942},{"y":0.85,"x":0.1926},{"y":0.9,"x":0.1908},{"y":0.95,"x":0.1888},
{"y":1,"x":0.1866},{"y":1.05,"x":0.1851},{"y":1.1,"x":0.1833},{"y":1.15,"x":0.1818},{"y":1.2,"x":0.1810},{"y":1.25,"x":0.1808},{"y":1.3,"x":0.1813},{"y":1.35,"x":0.1827},{"y":1.4,"x":0.1845},{"y":1.45,"x":0.1865},{"y":1.5,"x":0.1886},{"y":1.55,"x":0.1908},{"y":1.6,"x":0.1930},{"y":1.65,"x":0.1943},{"y":1.7,"x":0.1949},{"y":1.75,"x":0.1950},{"y":1.8,"x":0.1942},{"y":1.85,"x":0.1926},{"y":1.9,"x":0.1908},{"y":1.95,"x":0.1888},{"y":1.99,"x":0.1871}
]
},
"layer": [
{"data": {"name": "green"},
 "mark": {"type": "area", "orient": "horizontal", "clip": true, "interpolate": "catmull-rom"},
 "encoding": {
  "y": {"field": "y", "type": "quantitative", "scale": {"domain": [0, 2], "nice": false, "zero": false}, "title": null,
        "axis": {"values": [0,0.2,0.4,0.6,0.8,1,1.2,1.4,1.6,1.8,2], "labelExpr": "round(datum.value*10)==18 ? 'x₄' : (round(datum.value*10) % 4 == 0 ? format(datum.value, '.1f') : '')", "labelFontStyle": {"condition": {"test": "round(datum.value*10)==18", "value": "italic"}, "value": "normal"}}},
  "x": {"field": "x", "type": "quantitative", "scale": {"domain": [0.14958, 0.22592], "nice": false, "zero": false}, "title": null,
        "axis": {"values": [0.15,0.16,0.17,0.18,0.19,0.2,0.21,0.22], "labelPadding": 4, "labelExpr": "round(datum.value*1000)==220 ? 'x₂' : (round(datum.value*1000) % 20 == 10 ? format(datum.value, '.3f') : '')", "labelFontStyle": {"condition": {"test": "round(datum.value*1000)==220", "value": "italic"}, "value": "normal"}}},
  "x2": {"datum": 0.149},
  "color": {"field": "lvl", "type": "ordinal", "scale": {"domain": [1,2,3], "range": ["#eef4ec", "#e6efe3", "#dde9d9"]}, "legend": null}
 }},
{"data": {"name": "bands"}, "transform": [{"filter": "datum.k == 1"}],
 "mark": {"type": "line", "clip": true, "interpolate": "catmull-rom", "strokeWidth": 64, "color": "#fdfcf8", "strokeCap": "butt"},
 "encoding": {"y": {"field": "y", "type": "quantitative", "title": null}, "x": {"field": "l", "type": "quantitative", "title": null}, "order": {"field": "y"}}},
{"data": {"name": "bands"}, "transform": [{"filter": "datum.k == 1"}],
 "mark": {"type": "line", "clip": true, "interpolate": "catmull-rom", "strokeWidth": 64, "color": "#fdfcf8", "strokeCap": "butt"},
 "encoding": {"y": {"field": "y", "type": "quantitative", "title": null}, "x": {"field": "r", "type": "quantitative", "title": null}, "order": {"field": "y"}}},
{"data": {"name": "bands"}, "transform": [{"filter": "datum.k == 1"}],
 "mark": {"type": "line", "clip": true, "interpolate": "catmull-rom", "strokeWidth": 34, "color": "#f9f6ea", "strokeCap": "butt"},
 "encoding": {"y": {"field": "y", "type": "quantitative", "title": null}, "x": {"field": "l", "type": "quantitative", "title": null}, "order": {"field": "y"}}},
{"data": {"name": "bands"}, "transform": [{"filter": "datum.k == 1"}],
 "mark": {"type": "line", "clip": true, "interpolate": "catmull-rom", "strokeWidth": 34, "color": "#f9f6ea", "strokeCap": "butt"},
 "encoding": {"y": {"field": "y", "type": "quantitative", "title": null}, "x": {"field": "r", "type": "quantitative", "title": null}, "order": {"field": "y"}}},
{"data": {"name": "bands"},
 "mark": {"type": "area", "orient": "horizontal", "interpolate": "catmull-rom"},
 "encoding": {"y": {"field": "y", "type": "quantitative", "title": null}, "x": {"field": "l", "type": "quantitative", "title": null}, "x2": {"field": "r"},
  "color": {"field": "k", "type": "ordinal", "scale": {"domain": [1,2,3,4,5,6,7,8,9,10,11,12], "range": ["#f7f1d9", "#f5ecc2", "#f4e7a9", "#f4e390", "#f4e07a", "#f4de68", "#f5dd5a", "#f5dc50", "#f5dc48", "#f5dc42", "#f5dc3e", "#f5dc3c"]}, "legend": null}}},
{"data": {"name": "bands"}, "transform": [{"filter": "datum.k <= 11"}],
 "mark": {"type": "line", "clip": true, "interpolate": "catmull-rom", "strokeWidth": 1, "color": "#262626"},
 "encoding": {"y": {"field": "y", "type": "quantitative", "title": null}, "x": {"field": "l", "type": "quantitative", "title": null}, "detail": {"field": "k", "type": "nominal"}, "order": {"field": "y"}}},
{"data": {"name": "bands"},
 "mark": {"type": "line", "clip": true, "interpolate": "catmull-rom", "strokeWidth": 1, "color": "#262626"},
 "encoding": {"y": {"field": "y", "type": "quantitative", "title": null}, "x": {"field": "r", "type": "quantitative", "title": null}, "detail": {"field": "k", "type": "nominal"}, "order": {"field": "y"}}},
{"data": {"name": "loops"},
 "mark": {"type": "line", "clip": true, "interpolate": "cardinal-closed", "strokeWidth": 1, "color": "#262626"},
 "encoding": {"y": {"field": "y", "type": "quantitative", "title": null}, "x": {"field": "x", "type": "quantitative", "title": null}, "detail": {"field": "id", "type": "nominal"}, "order": {"field": "s"}}},
{"data": {"name": "red"},
 "mark": {"type": "line", "clip": true, "interpolate": "catmull-rom", "strokeWidth": 1.8, "color": "#ec3a1c"},
 "encoding": {"y": {"field": "y", "type": "quantitative", "title": null}, "x": {"field": "x", "type": "quantitative", "title": null}, "order": {"field": "y"}}},
{"data": {"values": [{}]},
 "mark": {"type": "rule", "color": "#000", "strokeWidth": 2},
 "encoding": {"y": {"datum": 2, "type": "quantitative"}}}
]
}
